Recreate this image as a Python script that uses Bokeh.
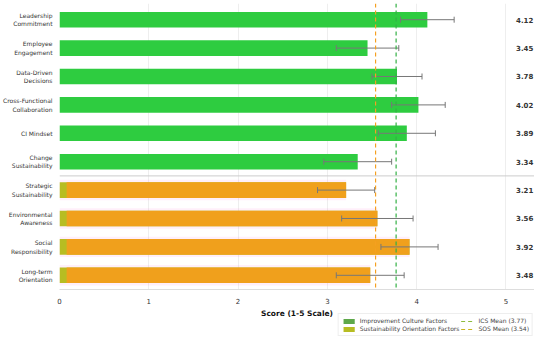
import math
from bokeh.plotting import figure
from bokeh.layouts import column
from bokeh.models import Range1d, Span, ColumnDataSource, Legend, LegendItem, FixedTicker, Label
from bokeh.core.properties import value
from bokeh.embed import file_html
from bokeh.resources import INLINE

factors = ["Leadership\nCommitment", "Employee\nEngagement", "Data-Driven\nDecisions",
           "Cross-Functional\nCollaboration", "CI Mindset", "Change\nSustainability",
           "Strategic\nSustainability", "Environmental\nAwareness", "Social\nResponsibility",
           "Long-term\nOrientation"]
ics_scores = [4.12, 3.45, 3.78, 4.02, 3.89, 3.34]
sos_scores = [3.21, 3.56, 3.92, 3.48]
ics_err = [0.30, 0.35, 0.28, 0.30, 0.32, 0.38]
sos_err = [0.32, 0.40, 0.32, 0.38]
ics_mean = 3.77
sos_mean = 3.54
x_ticks = [0, 1, 2, 3, 4, 5]
x_label = "Score (1-5 Scale)"

n_ics = len(ics_scores)
ys = list(range(len(factors)))
ics_y = ys[:n_ics]
sos_y = ys[n_ics:]
scores = ics_scores + sos_scores
errs = ics_err + sos_err

FONT = "DejaVu Sans"
GREEN = "#2ecc40"
ORANGE = "#f0a01c"
OLIVE = "#b7bd22"
ERR = "#777777"

p = figure(width=534, height=306, output_backend="svg", toolbar_location=None,
           x_range=Range1d(0, 5.32), y_range=Range1d(9.5, -0.57),
           min_border_left=4, min_border_right=0, min_border_top=3, min_border_bottom=0)
p.outline_line_color = None

# bars
ics_src = ColumnDataSource(dict(y=ics_y, v=ics_scores))
p.hbar(y="y", right="v", left=0, height=0.55, source=ics_src, fill_color=GREEN, line_color=None)
sos_src = ColumnDataSource(dict(y=sos_y, v=sos_scores))
p.hbar(y="y", right="v", left=-0.1, height=0.72, source=sos_src, fill_color="#ff66cc",
       fill_alpha=0.10, line_color=None)
p.hbar(y="y", right="v", left=0, height=0.55, source=sos_src, fill_color=OLIVE, line_color=None)
p.hbar(y="y", right="v", left=0.08, height=0.55, source=sos_src, fill_color=ORANGE, line_color=None)

# error bars
lo = [s - e for s, e in zip(scores, errs)]
hi = [s + e for s, e in zip(scores, errs)]
err_src = ColumnDataSource(dict(y=ys, lo=lo, hi=hi))
p.segment(x0="lo", y0="y", x1="hi", y1="y", source=err_src, line_color=ERR, line_width=1)
p.scatter(x="lo", y="y", source=err_src, marker="dash", angle=math.pi / 2, size=6,
          line_color=ERR, line_width=1)
p.scatter(x="hi", y="y", source=err_src, marker="dash", angle=math.pi / 2, size=6,
          line_color=ERR, line_width=1)

# mean lines
p.add_layout(Span(location=ics_mean, dimension="height", line_color="#33b044",
                  line_dash="4 3", line_width=1.2))
p.add_layout(Span(location=sos_mean, dimension="height", line_color="#f5a020",
                  line_dash="4 3", line_width=1.2))
# separator between groups
p.add_layout(Span(location=n_ics - 0.5, dimension="width", line_color="#cccccc", line_width=1))

# value labels
lab_src = ColumnDataSource(dict(y=ys, x=[5.21] * len(ys), t=["%.2f" % s for s in scores]))
p.text(x="x", y="y", text="t", source=lab_src, text_font=value(FONT), text_font_size="7px",
       text_font_style="bold", text_color="#333333", text_align="center", text_baseline="middle")

# axes
p.xaxis.ticker = FixedTicker(ticks=x_ticks)
p.xaxis.major_label_text_font = FONT
p.xaxis.major_label_text_font_size = "7px"
p.xaxis.major_label_text_color = "#333333"
p.xaxis.axis_line_color = "#dddddd"
p.xaxis.major_tick_line_color = None
p.xaxis.minor_tick_line_color = None
p.xaxis.major_label_standoff = 2

p.yaxis.ticker = FixedTicker(ticks=ys)
p.yaxis.major_label_overrides = {i: f for i, f in zip(ys, factors)}
p.yaxis.major_label_text_font = FONT
p.yaxis.major_label_text_font_size = "6px"
p.yaxis.major_label_text_color = "#333333"
p.yaxis.axis_line_color = None
p.yaxis.major_tick_line_color = None
p.yaxis.minor_tick_line_color = None
p.yaxis.major_label_standoff = 1

p.xgrid.grid_line_color = "#eeeeee"
p.ygrid.grid_line_color = None

# strip below: axis title + legend (x range shared with the main chart)
q = figure(width=534, height=31, output_backend="svg", toolbar_location=None,
           min_border=0, x_range=p.x_range, y_range=Range1d(0, 1))
q.axis.visible = False
q.grid.grid_line_color = None
q.outline_line_color = None
q.add_layout(Label(x=2.66, y=24, y_units="screen", text=x_label,
                   text_font=FONT, text_font_size="7.5px", text_font_style="bold",
                   text_color="#111111", text_align="center", text_baseline="middle"))
proxy = ColumnDataSource(dict(x=[-5], y=[-5]))
r1 = q.rect(x="x", y="y", width=1, height=1, source=proxy, fill_color="#5ea84a", line_color=None)
r2 = q.rect(x="x", y="y", width=1, height=1, source=proxy, fill_color=OLIVE, line_color=None)
r3 = q.line(x="x", y="y", source=proxy, line_color="#8dbb3c", line_dash="4 3", line_width=1.2)
r4 = q.line(x="x", y="y", source=proxy, line_color="#c9b520", line_dash="4 3", line_width=1.2)
legend = Legend(items=[LegendItem(label="Improvement Culture Factors", renderers=[r1]),
                       LegendItem(label="Sustainability Orientation Factors", renderers=[r2]),
                       LegendItem(label="ICS Mean (3.77)", renderers=[r3]),
                       LegendItem(label="SOS Mean (3.54)", renderers=[r4])],
                location="bottom_right", orientation="vertical", nrows=2,
                label_text_font=FONT, label_text_font_size="6px", label_text_color="#444444",
                glyph_width=14, glyph_height=6, label_height=7, spacing=1, padding=3,
                margin=1, label_standoff=4, border_line_color="#dddddd",
                background_fill_alpha=0.9)
q.add_layout(legend, "center")

layout = column(p, q, spacing=0)
open("out.html", "w").write(file_html(layout, INLINE))
